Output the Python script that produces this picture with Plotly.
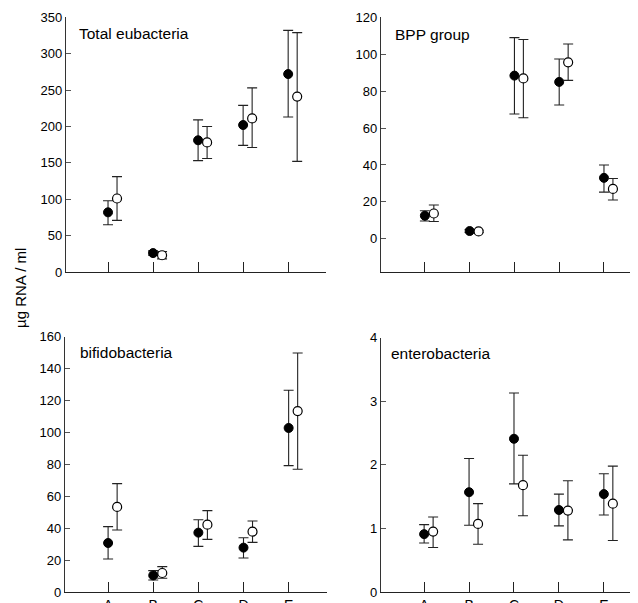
import plotly.graph_objects as go

categories = ["A", "B", "C", "D", "E"]
positions = [1, 2, 3, 4, 5]
open_offset = 0.2

# Total eubacteria
tot_filled = [82, 26, 181, 202, 272]
tot_filled_hi = [98, 29, 209, 229, 332]
tot_filled_lo = [65, 23, 153, 174, 213]
tot_open = [101, 23, 178, 211, 241]
tot_open_hi = [131, 28, 200, 253, 329]
tot_open_lo = [71, 18, 156, 171, 152]

# BPP group
bpp_filled = [12.5, 4.2, 88.4, 85.0, 33.0]
bpp_filled_hi = [15.2, 5.0, 109.0, 97.4, 40.0]
bpp_filled_lo = [9.6, 3.4, 67.6, 72.5, 25.3]
bpp_open = [13.7, 4.0, 86.9, 95.6, 27.0]
bpp_open_hi = [18.3, 4.6, 108.0, 105.5, 32.7]
bpp_open_lo = [9.4, 3.4, 65.6, 85.8, 21.0]

# bifidobacteria
bif_filled = [30.7, 10.4, 37.2, 27.8, 102.8]
bif_filled_hi = [41.0, 13.4, 45.3, 34.0, 126.4]
bif_filled_lo = [20.7, 7.5, 28.6, 21.3, 79.2]
bif_open = [53.3, 11.9, 42.2, 37.8, 113.4]
bif_open_hi = [67.9, 15.9, 51.0, 44.5, 149.8]
bif_open_lo = [38.9, 8.6, 33.0, 31.1, 76.9]

# enterobacteria
ent_filled = [0.91, 1.57, 2.41, 1.29, 1.54]
ent_filled_hi = [1.06, 2.10, 3.13, 1.54, 1.86]
ent_filled_lo = [0.77, 1.05, 1.70, 1.04, 1.21]
ent_open = [0.95, 1.07, 1.68, 1.28, 1.39]
ent_open_hi = [1.18, 1.39, 2.15, 1.75, 1.98]
ent_open_lo = [0.70, 0.75, 1.20, 0.82, 0.81]

panels = [
    ("Total eubacteria", tot_filled, tot_filled_hi, tot_filled_lo, tot_open, tot_open_hi, tot_open_lo),
    ("BPP group", bpp_filled, bpp_filled_hi, bpp_filled_lo, bpp_open, bpp_open_hi, bpp_open_lo),
    ("bifidobacteria", bif_filled, bif_filled_hi, bif_filled_lo, bif_open, bif_open_hi, bif_open_lo),
    ("enterobacteria", ent_filled, ent_filled_hi, ent_filled_lo, ent_open, ent_open_hi, ent_open_lo),
]

# the page body has an 8px default margin: work in page pixels and shift
OFF = 8
W, H = 638 - OFF, 603 - OFF
FONT = "Arial, Liberation Sans, sans-serif"


def px(x):
    return (x - OFF) / W


def py(y):
    return 1 - (y - OFF) / H


layout_px = [
    dict(x0=66, x1=326, yt=17.3, yb=272, xr=[0.067, 5.84], yr=[0, 350], dt=50, lab=False),
    dict(x0=381, x1=638, yt=17.3, yb=272, xr=[0.02, 5.76], yr=[-18, 120], dt=20, lab=False),
    dict(x0=65, x1=327, yt=336.7, yb=592, xr=[0.045, 5.85], yr=[0, 160], dt=20, lab=True),
    dict(x0=381, x1=638, yt=337.7, yb=592, xr=[0.04, 5.76], yr=[0, 4], dt=1, lab=True),
]

fig = go.Figure()
for i, (p, L) in enumerate(zip(panels, layout_px)):
    name, f, fhi, flo, o, ohi, olo = p
    sfx = "" if i == 0 else str(i + 1)
    xa, ya = "x" + sfx, "y" + sfx
    fig.add_trace(go.Scatter(
        x=positions, y=f, mode="markers", xaxis=xa, yaxis=ya,
        marker=dict(symbol="circle", size=9, color="black", line=dict(color="black", width=1)),
        error_y=dict(type="data", symmetric=False,
                     array=[h - v for h, v in zip(fhi, f)],
                     arrayminus=[v - l for l, v in zip(flo, f)],
                     color="#222", thickness=1.1, width=5),
        showlegend=False, cliponaxis=False))
    fig.add_trace(go.Scatter(
        x=[x + open_offset for x in positions], y=o, mode="markers", xaxis=xa, yaxis=ya,
        marker=dict(symbol="circle", size=9, color="white", line=dict(color="black", width=1.2)),
        error_y=dict(type="data", symmetric=False,
                     array=[h - v for h, v in zip(ohi, o)],
                     arrayminus=[v - l for l, v in zip(olo, o)],
                     color="#222", thickness=1.1, width=5),
        showlegend=False, cliponaxis=False))
    xkey = "xaxis" + sfx
    ykey = "yaxis" + sfx
    fig.layout[xkey] = dict(
        domain=[px(L["x0"]), min(1.0, px(L["x1"]))], range=L["xr"], anchor=ya,
        tickmode="array", tickvals=positions,
        ticktext=categories if L["lab"] else ["", "", "", "", ""],
        ticks="inside", ticklen=10, tickwidth=1.3, tickcolor="#222",
        showline=True, linecolor="#222", linewidth=1.3,
        showgrid=False, zeroline=False, automargin=False,
        tickfont=dict(family=FONT, size=14, color="black"), fixedrange=True)
    fig.layout[ykey] = dict(
        domain=[py(L["yb"]), py(L["yt"])], range=L["yr"], anchor=xa,
        dtick=L["dt"], tick0=0,
        ticks="inside", ticklen=5, tickwidth=1, tickcolor="#555",
        showline=True, linecolor="#333", linewidth=1.2,
        showgrid=False, zeroline=False, automargin=False,
        tickfont=dict(family=FONT, size=13, color="black"), fixedrange=True)

titles = [("Total eubacteria", 77, 34), ("BPP group", 393, 35),
          ("bifidobacteria", 78, 352), ("enterobacteria", 389, 353)]
for t, tx, ty in titles:
    fig.add_annotation(text=t, xref="paper", yref="paper", x=px(tx), y=py(ty),
                       xanchor="left", yanchor="middle", showarrow=False,
                       font=dict(family=FONT, size=15.5, color="black"))

fig.add_annotation(text="µg RNA / ml", xref="paper", yref="paper", x=px(20), y=py(288),
                   xanchor="center", yanchor="middle", textangle=-90, showarrow=False,
                   font=dict(family=FONT, size=15, color="black"))

fig.update_layout(width=W, height=H, margin=dict(l=0, r=0, t=0, b=0),
                  paper_bgcolor="white", plot_bgcolor="white")
fig.write_html("out.html")
